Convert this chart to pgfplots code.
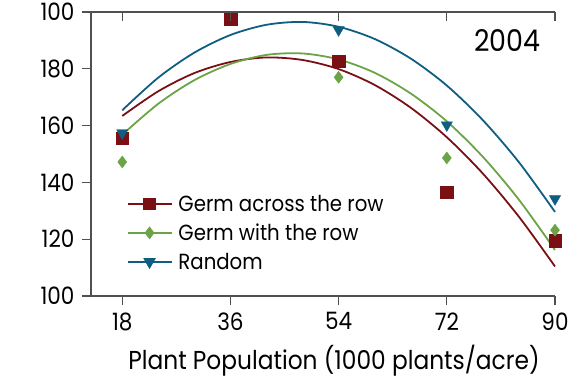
\documentclass[border=0pt]{standalone}
\usepackage{pgfplots}
\pgfplotsset{compat=1.18}
\usepackage{fontspec}
\setmainfont[FakeStretch=0.9]{Poppins}
\definecolor{cred}{HTML}{7A0F14}
\definecolor{cgreen}{HTML}{6BA346}
\definecolor{cblue}{HTML}{0F5E82}
\definecolor{axgray}{HTML}{505050}
\newcommand{\tickfont}{\fontsize{24}{24}\selectfont}
\begin{document}
\begin{tikzpicture}
\useasboundingbox (-91bp,-84bp) rectangle (489bp,296bp);
\begin{axis}[at={(0,0)}, anchor=south west, scale only axis,
  width=464bp, height=284bp,
  xmin=12.8, xmax=90, ymin=100, ymax=200, clip=false,
  axis x line*=bottom, axis y line*=left,
  axis line style={axgray, line width=1.2pt, -},
  tick align=outside, major tick length=9bp,
  tick style={axgray, line width=1.2pt},
  xtick={18,36,54,72,90}, ytick={100,120,140,160,180,200},
  yticklabels={100,120,140,160,180,100},
  tick label style={font=\tickfont},
  yticklabel style={xshift=-4bp},
  xticklabel style={yshift=-4bp},
  /pgf/number format/assume math mode=true,
  xlabel={Plant Population (1000 plants/acre)},
  xlabel style={font=\fontsize{26}{26}\selectfont, yshift=-8bp, xshift=11bp},
  legend cell align=left,
  legend style={at={(rel axis cs:0.07,0.37)}, anchor=north west, draw=none, fill=none,
    font=\fontsize{22}{22}\selectfont, row sep=7bp, column sep=4bp},
  legend image code/.code={\draw[mark repeat=2, mark phase=2] plot coordinates {(0bp,0bp)(22bp,0bp)(44bp,0bp)};},
]
\addlegendimage{cred, line width=1.8pt, mark=square*, mark size=5.5bp, mark options={solid}}
\addlegendentry{Germ across the row}
\addlegendimage{cgreen, line width=1.8pt, mark=diamond*, mark size=5bp, mark options={solid}}
\addlegendentry{Germ with the row}
\addlegendimage{cblue, line width=1.8pt, mark=triangle*, mark size=5.5bp, mark options={solid, rotate=180}}
\addlegendentry{Random}

% observed points
\addplot[only marks, mark=square*, cred, mark size=6.3bp, forget plot] coordinates {
  (18,155.6) (36,197.5) (54,182.7) (72,136.6) (90,119.4)};
\addplot[only marks, mark=diamond*, cgreen, mark size=6bp, forget plot] coordinates {
  (18,147.2) (54,177.0) (72,148.6) (90,123.2)};
\addplot[only marks, mark=triangle*, cblue, mark size=6.5bp, mark options={rotate=180}, forget plot] coordinates {
  (18,157.4) (54,193.7) (72,160.2) (90,134.2)};

% quadratic fits
\addplot[cred, line width=1.8pt, smooth, forget plot] coordinates {
  (18,163.4) (24,172.1) (30,178.5) (36,182.4) (42,184.0) (48,183.1) (54,179.9)
  (60,174.3) (66,166.3) (72,155.9) (78,143.1) (84,127.9) (90,110.4)};
\addplot[cgreen, line width=1.8pt, smooth, forget plot] coordinates {
  (18,156.8) (24,167.7) (30,176.0) (36,181.7) (42,184.9) (48,185.4) (54,183.3)
  (60,178.6) (66,171.3) (72,161.5) (78,149.0) (84,133.9) (90,116.2)};
\addplot[cblue, line width=1.8pt, smooth, forget plot] coordinates {
  (18,165.4) (24,176.9) (30,185.7) (36,191.9) (42,195.5) (48,196.5) (54,194.8)
  (60,190.5) (66,183.6) (72,174.1) (78,161.9) (84,147.1) (90,129.6)};

\node[font=\fontsize{30}{30}\selectfont] at (rel axis cs:0.897,0.90) {2004};
\end{axis}
\begin{axis}[at={(0,0)}, anchor=south west, scale only axis,
  width=464bp, height=284bp,
  xmin=12.8, xmax=90, ymin=100, ymax=200,
  axis x line*=top, axis y line=none,
  axis line style={axgray, line width=1.2pt, -},
  tick align=inside, major tick length=9bp,
  tick style={axgray, line width=1.2pt},
  xtick={18,36,54,72,90}, xticklabels={}, ytick=\empty]
\end{axis}
\end{tikzpicture}
\end{document}
